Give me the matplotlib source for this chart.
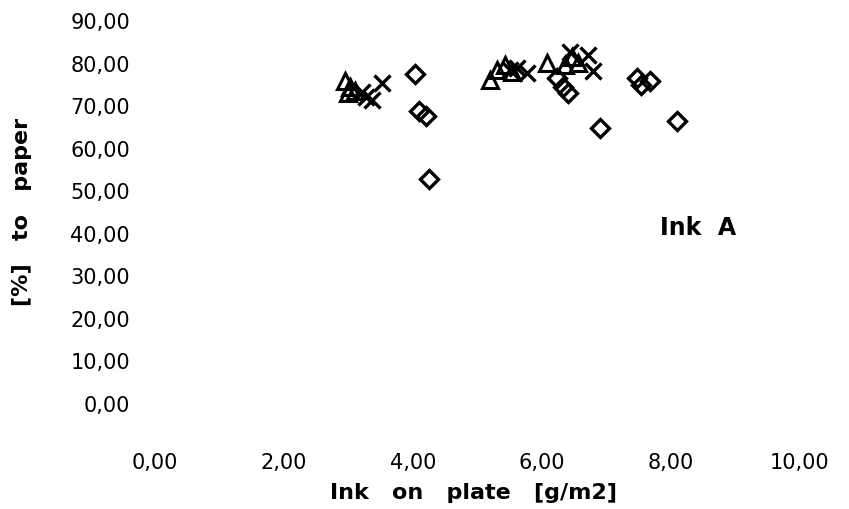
import numpy as np
import matplotlib
matplotlib.use("Agg")
import matplotlib.pyplot as plt
from matplotlib.ticker import FuncFormatter

# data: ink on plate [g/m2] vs. transfer to paper [%]
diamond_x = [4.03, 4.09, 4.20, 4.25, 6.23, 6.33, 6.40, 6.90, 7.47, 7.53, 7.67, 8.09]
diamond_y = [77.6, 68.9, 67.7, 52.9, 76.6, 74.5, 73.1, 64.9, 76.6, 75.0, 75.9, 66.5]

triangle_x = [2.95, 3.02, 3.10, 3.00, 5.19, 5.30, 5.43, 5.53, 6.08, 6.36, 6.47, 6.56]
triangle_y = [75.8, 74.5, 73.6, 73.0, 76.1, 78.5, 79.7, 78.0, 80.1, 79.7, 81.6, 80.1]

cross_x = [3.52, 3.36, 3.21, 3.27, 5.50, 5.61, 5.77, 6.43, 6.71, 6.79]
cross_y = [75.4, 71.4, 73.3, 72.2, 78.5, 79.0, 77.8, 82.7, 82.0, 78.3]

x_ticks = [0, 2, 4, 6, 8, 10]
y_ticks = [0, 10, 20, 30, 40, 50, 60, 70, 80, 90]

W, H = 849, 509
fig = plt.figure(figsize=(W / 100, H / 100), dpi=100)
ax = fig.add_axes([155 / W, 1 - 404 / H, (800 - 155) / W, (404 - 21) / H])

ax.plot(diamond_x, diamond_y, ls="none", marker="D", ms=9, mfc="none", mec="black", mew=2.4)
ax.plot(triangle_x, triangle_y, ls="none", marker="^", ms=11, mfc="none", mec="black", mew=2.2)
ax.plot(cross_x, cross_y, ls="none", marker="x", ms=11, mec="black", mew=2.4)

ax.set_xlim(0, 10)
ax.set_ylim(0, 90)
ax.set_xticks(x_ticks)
ax.set_yticks(y_ticks)
comma = FuncFormatter(lambda v, p: f"{v:.2f}".replace(".", ","))
ax.xaxis.set_major_formatter(comma)
ax.yaxis.set_major_formatter(comma)
ax.tick_params(length=0, labelsize=15, labelcolor="black")
ax.tick_params(axis="x", pad=35)
ax.tick_params(axis="y", pad=18)
for s in ax.spines.values():
    s.set_visible(False)

# wide word spacing as in the original
fig.text(474 / W, 1 - 493 / H, "Ink   on   plate   [g/m2]", ha="center", va="center",
         fontsize=16, fontweight="bold")
fig.text(22 / W, 1 - 212 / H, "[%]   to   paper", ha="center", va="center",
         rotation=90, fontsize=16, fontweight="bold")
ax.text(8.42, 41.4, "Ink  A", ha="center", va="center", fontsize=17, fontweight="bold")

fig.savefig("out.png", dpi=100)
